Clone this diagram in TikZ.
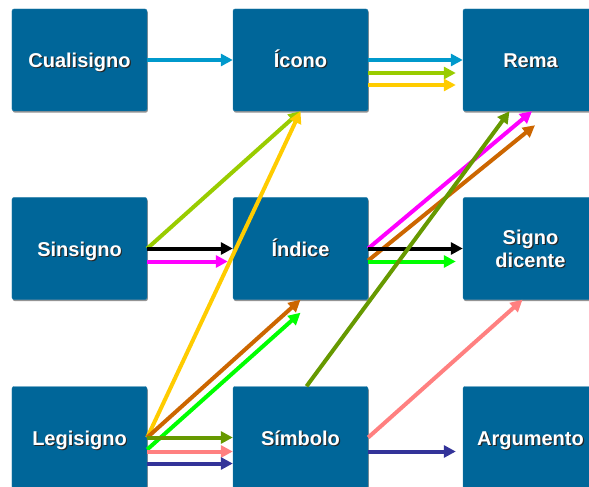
\documentclass[tikz,border=0pt]{standalone}
\usepackage{fontspec}
\setmainfont{Liberation Sans}
\usepackage{xcolor}
\usepackage{tikz}
\usetikzlibrary{arrows.meta}
\usetikzlibrary{shadows}
\definecolor{sign_blue}{RGB}{0,102,153}
\definecolor{sky_blue}{RGB}{0,153,204}
\definecolor{lime_green}{RGB}{153,204,0}
\definecolor{gold_yellow}{RGB}{255,204,0}
\definecolor{pure_magenta}{RGB}{255,0,255}
\definecolor{rust_brown}{RGB}{204,102,0}
\definecolor{pure_green}{RGB}{0,255,0}
\definecolor{olive_green}{RGB}{102,153,0}
\definecolor{salmon_pink}{RGB}{255,128,128}
\definecolor{dark_navy}{RGB}{51,51,153}
% white label with a dark copy just behind it
\newcommand{\castlabel}[1]{\makebox[0pt][l]{\hspace{1.2bp}\raisebox{-1.2bp}{\color{black!85}#1}}#1}
\tikzset{
    sign/.style={fill=sign_blue, draw=sign_blue!85!white, line width=0.4bp,
        rounded corners=2bp, minimum width=135bp, minimum height=102bp,
        inner sep=0pt, align=center, text=white,
        text height=15bp, text depth=0bp,
        font=\fontsize{20bp}{23bp}\selectfont\bfseries,
        drop shadow={shadow xshift=0.8bp, shadow yshift=-1.6bp, opacity=0.6, fill=black!70}},
    link/.style={line width=4bp, -{Triangle[length=12bp,width=12bp]}}
}

\begin{document}
\begin{tikzpicture}[x=1bp, y=-1bp]
    \useasboundingbox (0,0) rectangle (589,487);
    \clip (0,0) rectangle (589,487);
    % Signs in three rows
    \node[sign] (cua) at (79.5,60) {\castlabel{Cualisigno}};
    \node[sign] (ico) at (300.5,60) {\castlabel{Ícono}};
    \node[sign] (rem) at (530.5,60) {\castlabel{Rema}};
    \node[sign] (sin) at (79.5,248.5) {\castlabel{Sinsigno}};
    \node[sign] (ind) at (300.5,248.5) {\castlabel{Índice}};
    \node[sign, text height=38bp] (sig) at (530.5,248.5) {\castlabel{Signo}\\\castlabel{dicente}};
    \node[sign] (leg) at (79.5,437.5) {\castlabel{Legisigno}};
    \node[sign] (sim) at (300.5,437.5) {\castlabel{Símbolo}};
    \node[sign] (arg) at (530.5,437.5) {\castlabel{Argumento}};
    % Top row
    \draw[link, sky_blue] (cua.east) -- (ico.west);
    \draw[link, sky_blue] (ico.east) -- (rem.west);
    \draw[link, lime_green] ([yshift=-13bp]ico.east) -- ([xshift=-7bp,yshift=-13bp]rem.west);
    \draw[link, gold_yellow] ([yshift=-25bp]ico.east) -- ([xshift=-7bp,yshift=-25bp]rem.west);
    % From Sinsigno
    \draw[link, lime_green] (sin.east) -- (ico.south);
    \draw[link, black] (sin.east) -- (ind.west);
    \draw[link, pure_magenta] ([yshift=-13bp]sin.east) -- ([xshift=-5bp,yshift=-13bp]ind.west);
    % From Legisigno
    \draw[link, gold_yellow] (leg.east) -- (ico.south);
    \draw[link, rust_brown] (leg.east) -- (ind.south);
    \draw[link, pure_green] ([yshift=-12bp]leg.east) -- ([yshift=-13bp]ind.south);
    \draw[link, olive_green] (leg.east) -- (sim.west);
    \draw[link, salmon_pink] ([yshift=-14bp]leg.east) -- ([yshift=-14bp]sim.west);
    \draw[link, dark_navy] ([yshift=-26bp]leg.east) -- ([yshift=-26bp]sim.west);
    % From Indice
    \draw[link, pure_magenta] (ind.east) -- ([xshift=1.5bp]rem.south);
    \draw[link, rust_brown] ([yshift=-12bp]ind.east) -- ([xshift=4.5bp,yshift=-14bp]rem.south);
    \draw[link, black] (ind.east) -- (sig.west);
    \draw[link, pure_green] ([yshift=-13bp]ind.east) -- ([xshift=-7bp,yshift=-13bp]sig.west);
    % From Simbolo
    \draw[link, olive_green] ([xshift=6bp]sim.north) -- ([xshift=-21bp]rem.south);
    \draw[link, salmon_pink] (sim.east) -- ([xshift=-8bp]sig.south);
    \draw[link, dark_navy] ([yshift=-14bp]sim.east) -- ([xshift=-7bp,yshift=-14bp]arg.west);
\end{tikzpicture}
\end{document}
